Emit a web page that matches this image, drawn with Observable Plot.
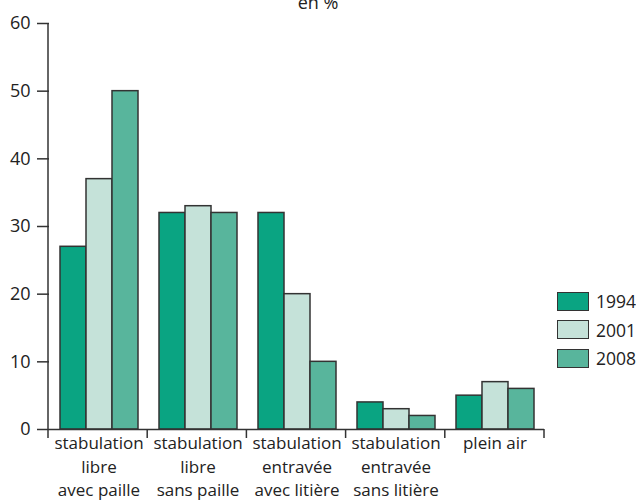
<!DOCTYPE html>
<html>
<head>
<meta charset="utf-8">
<script src="https://cdn.jsdelivr.net/npm/d3@7"></script>
<script src="https://cdn.jsdelivr.net/npm/@observablehq/plot@0.6"></script>
<style>
  html, body { margin: 0; padding: 0; background: white; }
  #wrap { position: relative; width: 636px; height: 502px; overflow: hidden; font-family: "Open Sans", sans-serif; color: #222; }
  #legend { position: absolute; left: 557px; top: 287px; font-size: 17.5px; }
  .item { display: flex; align-items: center; height: 28.5px; }
  .sw { width: 30px; height: 17px; border: 1.5px solid #333; margin-right: 7px; }
</style>
</head>
<body>
<div id="wrap"><div id="legend"></div></div>
<script>
const categories = [
  "stabulation\nlibre\navec paille",
  "stabulation\nlibre\nsans paille",
  "stabulation\nentravée\navec litière",
  "stabulation\nentravée\nsans litière",
  "plein air"
];
const years = ["1994", "2001", "2008"];
const v1994 = [27, 32, 32, 4, 5];
const v2001 = [37, 33, 20, 3, 7];
const v2008 = [50, 32, 10, 2, 6];
const colors = ["#0aa482", "#c5e2d9", "#58b59c"];
const yTicks = [0, 10, 20, 30, 40, 50, 60];
const title = "en %";

const series = [v1994, v2001, v2008];
const data = categories.flatMap((c, i) => years.map((y, j) => ({cat: c, year: y, value: series[j][i]})));

const plot = Plot.plot({
  width: 636,
  height: 502,
  marginLeft: 48,
  marginRight: 92,
  marginTop: 23,
  marginBottom: 73,
  style: {fontFamily: "Open Sans, sans-serif", fontSize: "18px", color: "#222", background: "white", overflow: "visible"},
  fx: {domain: categories, paddingInner: 0, paddingOuter: 0, label: null, axis: null},
  x: {domain: years, paddingInner: 0, paddingOuter: 0.375, axis: null},
  y: {domain: [0, 60], label: null},
  color: {domain: years, range: colors},
  marks: [
    Plot.barY(data, {fx: "cat", x: "year", y: "value", fill: "year", stroke: "#333", strokeWidth: 1.5, inset: 0}),
    Plot.ruleY([0], {stroke: "#333", strokeWidth: 1.5}),
    Plot.axisY({ticks: yTicks, tickSize: 12, tickPadding: 7, fontSize: 18, label: null, stroke: "#333", strokeWidth: 1.5, strokeOpacity: 1}),
    Plot.axisFx({anchor: "bottom", tickSize: 0, tickPadding: 3, fontSize: 17, lineHeight: 1.38, label: null})
  ]
});

document.getElementById("wrap").prepend(plot);

// axis lines and category boundary ticks, from the plot's own scales
const fx = plot.scale("fx");
const ys = plot.scale("y");
const band = d3.scaleBand().domain(fx.domain).range(fx.range).paddingInner(0).paddingOuter(0);
const y0 = ys.apply(0), yTop = ys.apply(d3.max(yTicks));
const svg = d3.select(plot);
const g = svg.append("g").attr("stroke", "#333").attr("stroke-width", 1.5);
g.append("line").attr("x1", band.range()[0]).attr("x2", band.range()[0]).attr("y1", yTop).attr("y2", y0);
const bounds = fx.domain.map(d => band(d)).concat([band.range()[1]]);
bounds.forEach(b => g.append("line").attr("x1", b).attr("x2", b).attr("y1", y0).attr("y2", y0 + 9));

// title
svg.append("text").attr("x", 318).attr("y", 9).attr("text-anchor", "middle")
  .attr("font-size", 18).attr("fill", "#222").text(title);

// legend
const leg = d3.select("#legend");
years.forEach((y, i) => {
  const it = leg.append("div").attr("class", "item");
  it.append("div").attr("class", "sw").style("background", colors[i]);
  it.append("span").text(y);
});
</script>
</body>
</html>
